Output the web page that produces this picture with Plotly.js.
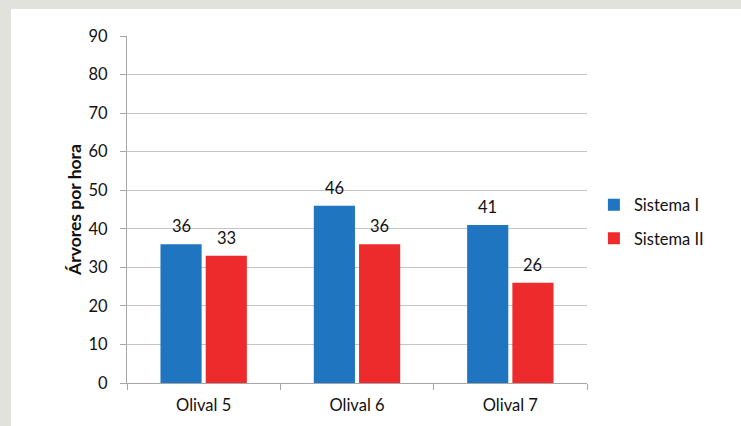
<!DOCTYPE html>
<html>
<head>
<meta charset="utf-8">
<script src="https://cdn.plot.ly/plotly-3.0.1.min.js"></script>
<style>
html,body{margin:0;padding:0;background:#e2e2dd;width:741px;height:426px;overflow:hidden;}
#chart{position:absolute;left:11px;top:9px;width:730px;height:417px;background:#fff;}
</style>
</head>
<body>
<div id="chart"></div>
<script>
const categories = ["Olival 5", "Olival 6", "Olival 7"];
const sistemaI = [36, 46, 41];
const sistemaII = [33, 36, 26];
const seriesNames = ["Sistema I", "Sistema II"];
const yTicks = [0, 10, 20, 30, 40, 50, 60, 70, 80, 90];

const fam = "Lato, 'Open Sans', sans-serif";
const txt = {family: fam, size: 16.5, color: "#111"};

const traces = [
  {type: "bar", name: seriesNames[0], x: categories, y: sistemaI,
   marker: {color: "#1f75bf"}, legendgroup: "a", hoverinfo: "skip"},
  {type: "bar", name: seriesNames[1], x: categories, y: sistemaII,
   marker: {color: "#ee2b2c"}, legendgroup: "b", hoverinfo: "skip"}
];

const annotations = [];
[sistemaI, sistemaII].forEach((vals, si) => {
  vals.forEach((v, i) => {
    annotations.push({x: categories[i], y: v, xref: "x", yref: "y",
      text: String(v), showarrow: false, yanchor: "bottom",
      xshift: si === 0 ? -22.5 : 22.5, yshift: 6, font: txt});
  });
});

const layout = {
  width: 730, height: 417,
  margin: {l: 116, r: 154, t: 27, b: 43},
  paper_bgcolor: "#ffffff", plot_bgcolor: "#ffffff",
  font: txt,
  barmode: "group", bargap: 0.41, bargroupgap: 0.09,
  showlegend: true,
  legend: {x: 1.015, y: 0.465, xanchor: "left", yanchor: "middle",
           font: txt, tracegroupgap: 9, bgcolor: "rgba(0,0,0,0)"},
  annotations: annotations,
  xaxis: {showline: true, linecolor: "#a6a6a6", linewidth: 1,
          ticks: "outside", tickson: "boundaries", ticklen: 6, tickcolor: "#a6a6a6",
          showgrid: false, tickfont: txt, ticklabelstandoff: 7},
  yaxis: {range: [0, 90], tickvals: yTicks, ticktext: yTicks.map(String),
          showline: true, linecolor: "#a6a6a6", linewidth: 1,
          ticks: "outside", ticklen: 6, tickcolor: "#a6a6a6",
          showgrid: true, gridcolor: "#c4c4c4", gridwidth: 1, zeroline: false,
          tickfont: txt, ticklabelstandoff: 9,
          title: {text: "<b>Árvores por hora</b>", standoff: 2,
                  font: {family: fam, size: 17.5, color: "#111"}}}
};

Plotly.newPlot("chart", traces, layout, {staticPlot: true});
</script>
</body>
</html>
